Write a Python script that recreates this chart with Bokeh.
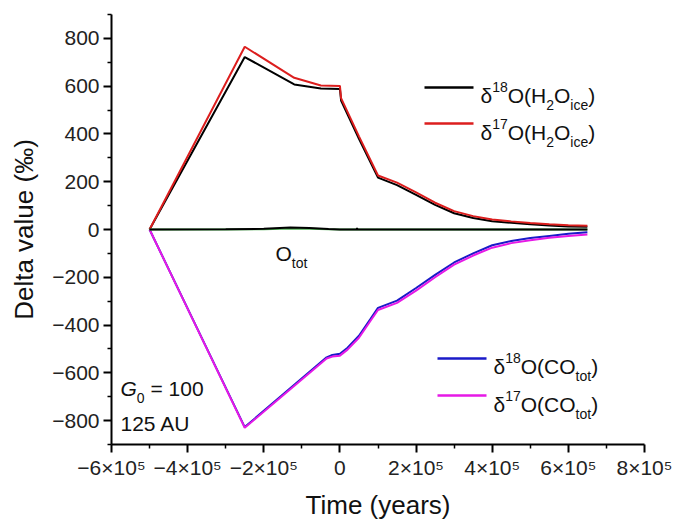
from bokeh.plotting import figure
from bokeh.models import FixedTicker, Label, Arrow
from bokeh.embed import file_html
from bokeh.resources import INLINE

# ---------------- data ----------------
time_h2o = [-500000, -250000, -120000, -50000, 0, 3000, 50000, 100000, 150000,
            200000, 250000, 300000, 350000, 400000, 450000, 500000, 550000, 600000, 650000]
d18O_h2o = [0, 722, 607, 590, 588, 540, 380, 217, 186,
            145, 103, 68, 48, 35, 28, 22, 17, 13, 11]
d17O_h2o = [0, 765, 635, 603, 601, 550, 390, 226, 196,
            155, 112, 77, 56, 42, 34, 27, 22, 18, 16]

time_co = [-500000, -250000, -35000, -20000, 0, 20000, 50000, 80000, 100000, 150000,
           200000, 250000, 300000, 350000, 400000, 450000, 500000, 550000, 600000, 650000]
d18O_co = [0, -827, -535, -525, -520, -495, -445, -375, -328, -298,
           -245, -190, -138, -100, -66, -48, -36, -27, -18, -12]
d17O_co = [0, -830, -540, -532, -528, -503, -453, -383, -337, -307,
           -256, -200, -147, -109, -76, -57, -45, -35, -27, -21]

time_tot = [-500000, -300000, -200000, -130000, -80000, -30000, 0, 44000, 45000, 46000,
            100000, 300000, 650000]
d18O_tot = [0, 1, 3, 8, 6, 2, 0, 0, 6, 0, 0, 0, 0]
d17O_tot = [0, 0, 1, 4, 3, 1, 0, 0, 0, 0, 0, 0, 0]

x_ticks = [-600000, -400000, -200000, 0, 200000, 400000, 600000, 800000]
x_tick_labels = ["\u22126\u00d710\u2075", "\u22124\u00d710\u2075", "\u22122\u00d710\u2075", "0",
                 "2\u00d710\u2075", "4\u00d710\u2075", "6\u00d710\u2075", "8\u00d710\u2075"]
x_minor = [-500000, -300000, -100000, 100000, 300000, 500000, 700000]
y_ticks = [-800, -600, -400, -200, 0, 200, 400, 600, 800]
y_tick_labels = ["\u2212800", "\u2212600", "\u2212400", "\u2212200", "0", "200", "400", "600", "800"]
y_minor = [-900, -700, -500, -300, -100, 100, 300, 500, 700, 900]

# ---------------- figure ----------------
FONT = "Liberation Sans"
XMIN, XMAX, YMIN, YMAX = -600000, 800000, -900, 900
p = figure(width=674, height=522, x_range=(XMIN, XMAX), y_range=(YMIN, YMAX),
           output_backend="svg", toolbar_location=None,
           min_border_left=111, min_border_right=30, min_border_top=14, min_border_bottom=78)
p.outline_line_color = None
p.grid.visible = False
p.background_fill_color = "white"
p.border_fill_color = "white"

for ax in (p.xaxis[0], p.yaxis[0]):
    ax.axis_line_width = 2
    ax.axis_line_color = "black"
    ax.major_tick_out = 8
    ax.major_tick_in = 0
    ax.minor_tick_out = 4
    ax.minor_tick_in = 0
    ax.major_tick_line_width = 2
    ax.minor_tick_line_width = 1.5
    ax.major_label_text_font = FONT
    ax.major_label_text_font_size = "21px"
    ax.major_label_text_color = "#222222"
    ax.axis_label_text_font = FONT
    ax.axis_label_text_font_size = "26px"
    ax.axis_label_text_font_style = "normal"
    ax.axis_label_text_color = "#111111"

p.xaxis.ticker = FixedTicker(ticks=x_ticks, minor_ticks=x_minor)
p.xaxis.major_label_overrides = dict(zip(x_ticks, x_tick_labels))
p.yaxis.ticker = FixedTicker(ticks=y_ticks, minor_ticks=y_minor)
p.yaxis.major_label_overrides = dict(zip(y_ticks, y_tick_labels))
p.xaxis.axis_label = "Time (years)"
p.yaxis.axis_label = "Delta value (\u2030)"
p.xaxis.major_label_standoff = 3
p.yaxis.major_label_standoff = 4
p.xaxis.axis_label_standoff = 8
p.yaxis.axis_label_standoff = 10

C_BLACK, C_RED, C_BLUE, C_MAG, C_GREEN = "#000000", "#dc1e1e", "#1a1ac8", "#e619e6", "#4caf50"
LW = 2

p.line(time_co, d18O_co, line_color=C_BLUE, line_width=LW)
p.line(time_co, d17O_co, line_color=C_MAG, line_width=LW)
p.line(time_h2o, d18O_h2o, line_color=C_BLACK, line_width=LW)
p.line(time_h2o, d17O_h2o, line_color=C_RED, line_width=LW)
p.line(time_tot, d17O_tot, line_color=C_GREEN, line_width=LW)
p.line(time_tot, d18O_tot, line_color=C_BLACK, line_width=LW)

# ---------------- annotation helpers (pixel positions -> data) ----------------
FX0, FX1, FY0, FY1 = 111, 644, 14, 444


def dx(px):
    return XMIN + (px - FX0) * (XMAX - XMIN) / (FX1 - FX0)


def dy(py):
    return YMIN + (FY1 - py) * (YMAX - YMIN) / (FY1 - FY0)


ADV = {"\u03b4": 556, "O": 778, "(": 333, ")": 333, "H": 722, "C": 722, "i": 222, "c": 500,
       "e": 556, "t": 278, "o": 556, " ": 278, "=": 584, "A": 667, "U": 722, "G": 778}


def width(txt, size):
    return sum(ADV.get(ch, 556) for ch in txt) / 1000.0 * size


def rich(x_px, base_px, pieces, size=21, small=14, color="#111111"):
    x = x_px
    for txt, mode in pieces:
        fs = small if mode in ("sup", "sub") else size
        off = -9 if mode == "sup" else (9 if mode == "sub" else 0)
        if mode == "gap":
            x += width(" ", size)
            continue
        p.add_layout(Label(x=dx(x), y=dy(base_px + off), text=txt,
                           text_font=FONT, text_font_size=f"{fs}px",
                           text_font_style="italic" if mode == "it" else "normal",
                           text_color=color, text_align="left", text_baseline="alphabetic"))
        x += width(txt, fs)


def key(x0_px, x1_px, y_px, color):
    p.add_layout(Arrow(x_start=dx(x0_px), y_start=dy(y_px), x_end=dx(x1_px), y_end=dy(y_px),
                       start=None, end=None, line_color=color, line_width=2.5))


# legends
key(424, 473, 87, C_BLACK)
rich(480, 95, [("\u03b4", "n"), ("18", "sup"), ("O(H", "n"), ("2", "sub"), ("O", "n"), ("ice", "sub"), (")", "n")])
key(424, 473, 123, C_RED)
rich(480, 132, [("\u03b4", "n"), ("17", "sup"), ("O(H", "n"), ("2", "sub"), ("O", "n"), ("ice", "sub"), (")", "n")])

key(437, 486, 358, C_BLUE)
rich(493, 366, [("\u03b4", "n"), ("18", "sup"), ("O(CO", "n"), ("tot", "sub"), (")", "n")])
key(437, 486, 395, C_MAG)
rich(493, 404, [("\u03b4", "n"), ("17", "sup"), ("O(CO", "n"), ("tot", "sub"), (")", "n")])

# other texts
rich(275, 253, [("O", "n"), ("tot", "sub")])
rich(120, 388, [("G", "it"), ("0", "sub"), ("", "gap"), ("= 100", "n")])
rich(120, 423, [("125 AU", "n")])

open("out.html", "w").write(file_html(p, INLINE))
